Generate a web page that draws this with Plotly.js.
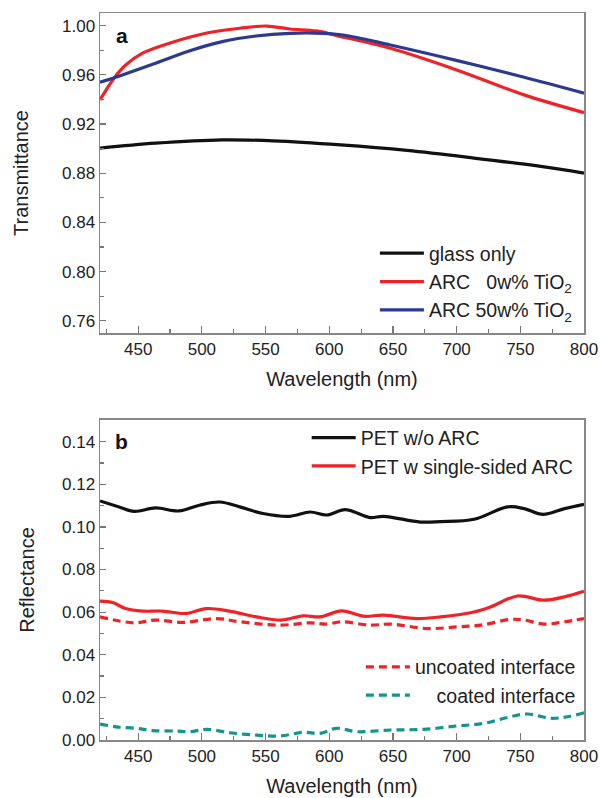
<!DOCTYPE html>
<html>
<head>
<meta charset="utf-8">
<script src="https://cdn.plot.ly/plotly-3.0.1.min.js"></script>
<style>html,body{margin:0;padding:0;background:#fff;}#chart{width:600px;height:798px;}</style>
</head>
<body>
<div id="chart"></div>
<script>
// ---- Panel a: transmittance ----
var wlGlass = [420, 463.6, 516, 556, 609, 661, 713.6, 766, 800];
var tGlass = [0.9004, 0.9044, 0.9071, 0.9063, 0.9030, 0.8985, 0.8923, 0.8855, 0.8801];

var wlArc0 = [420, 431, 440.2, 453.4, 477, 503, 530, 551, 569, 590, 606, 648, 700, 753, 800];
var tArc0 = [0.9396, 0.9573, 0.9680, 0.9776, 0.9865, 0.9938, 0.9979, 0.9997, 0.9973, 0.9957, 0.9919, 0.9816, 0.9640, 0.9437, 0.9293];

var wlArc50 = [420, 437.6, 463.6, 490, 516, 542.5, 569, 595, 611, 648, 700.5, 753, 800];
var tArc50 = [0.9540, 0.9599, 0.9694, 0.9794, 0.9870, 0.9916, 0.9938, 0.9938, 0.9924, 0.9843, 0.9716, 0.9580, 0.9451];

// ---- Panel b: reflectance ----
var wlPet = [420, 435, 446.8, 463.7, 482, 498, 514, 529.7, 548, 569, 585, 598, 612.5, 632, 642.5, 671.6, 687.4, 713.7, 740, 753, 767.8, 784.7, 800];
var rPet = [0.1122, 0.1094, 0.1073, 0.1089, 0.1075, 0.1102, 0.1117, 0.1094, 0.1063, 0.1050, 0.1070, 0.1056, 0.1081, 0.1044, 0.1050, 0.1023, 0.1025, 0.1036, 0.1094, 0.1086, 0.1059, 0.1086, 0.1106];

var wlPetArc = [420, 430, 440, 453.4, 469, 487.6, 503.4, 521.7, 542.7, 562.5, 579.5, 592.7, 609.8, 626.8, 642.6, 668.9, 687.3, 713.6, 726.8, 747.8, 768.8, 784.7, 800];
var rPetArc = [0.0652, 0.0645, 0.0617, 0.0605, 0.0605, 0.0594, 0.0617, 0.0605, 0.0578, 0.0563, 0.0583, 0.0578, 0.0606, 0.0581, 0.0586, 0.0570, 0.0578, 0.0601, 0.0625, 0.0676, 0.0656, 0.0672, 0.0698];

var wlUncoated = [420, 446.8, 463.7, 485, 511.4, 529.7, 561.6, 585, 598, 609.8, 632, 648, 677, 700.5, 719, 742.6, 753, 768.8, 784.7, 800];
var rUncoated = [0.0578, 0.0550, 0.0563, 0.0552, 0.0570, 0.0555, 0.0539, 0.0550, 0.0544, 0.0555, 0.0539, 0.0544, 0.0523, 0.0531, 0.0539, 0.0566, 0.0563, 0.0544, 0.0555, 0.0570];

var wlCoated = [420, 432.6, 448.4, 461.6, 480, 490.5, 503.6, 522, 543, 561.5, 579.6, 592.7, 606, 621.6, 648, 674, 700.5, 721.5, 740, 755.7, 774, 787, 800];
var rCoated = [0.0075, 0.0062, 0.0055, 0.0044, 0.0042, 0.0039, 0.0050, 0.0034, 0.0023, 0.0019, 0.0036, 0.0031, 0.0055, 0.0039, 0.0047, 0.0050, 0.0066, 0.0078, 0.0106, 0.0122, 0.0102, 0.0109, 0.0128];

var xTicks = [450, 500, 550, 600, 650, 700, 750, 800];

var RED = '#ee2227', BLUE = '#2b3990', TEAL = '#12958f', BLACK = '#111111';
var FONT = 'Liberation Sans, Arial, Helvetica, sans-serif';

var traces = [
  {x: wlGlass, y: tGlass, name: 'glass only', mode: 'lines', line: {color: BLACK, width: 3.2, shape: 'spline'}, xaxis: 'x', yaxis: 'y', legend: 'legend'},
  {x: wlArc0, y: tArc0, name: 'ARC\u00a0\u00a0\u00a00w% TiO<sub>2</sub>', mode: 'lines', line: {color: RED, width: 3.2, shape: 'spline'}, xaxis: 'x', yaxis: 'y', legend: 'legend'},
  {x: wlArc50, y: tArc50, name: 'ARC 50w% TiO<sub>2</sub>', mode: 'lines', line: {color: BLUE, width: 3.2, shape: 'spline'}, xaxis: 'x', yaxis: 'y', legend: 'legend'},
  {x: wlPet, y: rPet, name: 'PET w/o ARC', mode: 'lines', line: {color: BLACK, width: 3.2, shape: 'spline'}, xaxis: 'x2', yaxis: 'y2', legend: 'legend2'},
  {x: wlPetArc, y: rPetArc, name: 'PET w single-sided ARC', mode: 'lines', line: {color: RED, width: 3.2, shape: 'spline'}, xaxis: 'x2', yaxis: 'y2', legend: 'legend2'},
  {x: wlUncoated, y: rUncoated, name: 'uncoated interface', mode: 'lines', line: {color: RED, width: 3.2, shape: 'spline', dash: '8px,5px'}, xaxis: 'x2', yaxis: 'y2', legend: 'legend3'},
  {x: wlCoated, y: rCoated, name: '\u00a0\u00a0\u00a0\u00a0coated interface', mode: 'lines', line: {color: TEAL, width: 3.2, shape: 'spline', dash: '8px,5px'}, xaxis: 'x2', yaxis: 'y2', legend: 'legend3'}
];

function xAxis(anchor) {
  return {
    anchor: anchor, domain: [0, 1], range: [420, 800],
    tickvals: xTicks, ticktext: xTicks.map(String),
    ticks: 'inside', ticklen: 7, tickwidth: 1.2, tickcolor: '#777',
    minor: {ticks: 'inside', dtick: 25, tick0: 425, ticklen: 4, tickwidth: 1.2, tickcolor: '#777'},
    showline: true, linecolor: '#888', linewidth: 1.5, mirror: true,
    showgrid: false, zeroline: false,
    tickfont: {family: FONT, size: 17, color: '#222'},
    title: {text: 'Wavelength (nm)', font: {family: FONT, size: 20, color: '#222'}, standoff: 14}
  };
}

var legendFont = {family: FONT, size: 19.5, color: '#222'};

var layout = {
  width: 600, height: 798,
  margin: {l: 100, r: 16, t: 13, b: 58},
  paper_bgcolor: '#fff', plot_bgcolor: '#fff',
  font: {family: FONT, color: '#222'},
  xaxis: xAxis('y'),
  xaxis2: xAxis('y2'),
  yaxis: {
    anchor: 'x', domain: [0.5598, 1], range: [0.75, 1.0103],
    tick0: 0.76, dtick: 0.04, tickformat: '.2f',
    ticks: 'inside', ticklen: 6, tickwidth: 1.2, tickcolor: '#777',
    minor: {ticks: 'inside', dtick: 0.02, tick0: 0.76, ticklen: 4, tickwidth: 1.2, tickcolor: '#777'},
    showline: true, linecolor: '#888', linewidth: 1.5, mirror: true,
    showgrid: false, zeroline: false,
    tickfont: {family: FONT, size: 17, color: '#222'},
    title: {text: 'Transmittance', font: {family: FONT, size: 20, color: '#222'}, standoff: 28}
  },
  yaxis2: {
    anchor: 'x2', domain: [0, 0.4402], range: [0, 0.1502],
    tick0: 0, dtick: 0.02, tickformat: '.2f',
    ticks: 'inside', ticklen: 6, tickwidth: 1.2, tickcolor: '#777',
    minor: {ticks: 'inside', dtick: 0.01, tick0: 0, ticklen: 4, tickwidth: 1.2, tickcolor: '#777'},
    showline: true, linecolor: '#888', linewidth: 1.5, mirror: true,
    showgrid: false, zeroline: false,
    tickfont: {family: FONT, size: 17, color: '#222'},
    title: {text: 'Reflectance', font: {family: FONT, size: 20, color: '#222'}, standoff: 22}
  },
  legend: {x: 0.568, y: 0.696, xanchor: 'left', yanchor: 'top', bgcolor: 'rgba(0,0,0,0)', itemwidth: 44, font: legendFont},
  legend2: {x: 0.427, y: 0.4423, xanchor: 'left', yanchor: 'top', bgcolor: 'rgba(0,0,0,0)', itemwidth: 44, font: legendFont},
  legend3: {x: 0.539, y: 0.127, xanchor: 'left', yanchor: 'top', bgcolor: 'rgba(0,0,0,0)', itemwidth: 44, font: legendFont},
  annotations: [
    {text: '<b>a</b>', xref: 'x domain', yref: 'y domain', x: 0.045, y: 0.931, xanchor: 'center', yanchor: 'middle', showarrow: false, font: {family: FONT, size: 21, color: '#111'}},
    {text: '<b>b</b>', xref: 'x2 domain', yref: 'y2 domain', x: 0.045, y: 0.933, xanchor: 'center', yanchor: 'middle', showarrow: false, font: {family: FONT, size: 21, color: '#111'}}
  ],
  showlegend: true
};

Plotly.newPlot('chart', traces, layout, {displayModeBar: false, staticPlot: true});
</script>
</body>
</html>
